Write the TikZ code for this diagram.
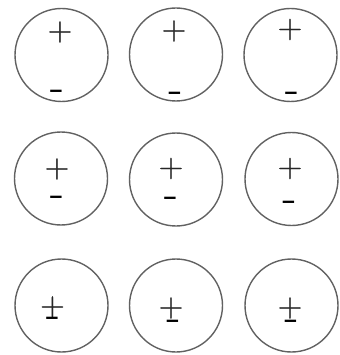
\documentclass[tikz,border=0pt]{standalone}
\usepackage{fontspec}
\newfontfamily\dashfont{Liberation Sans}
\newfontfamily\plusfont[FakeBold=0.8]{Latin Modern Roman}
\begin{document}
\begin{tikzpicture}[x=1pt,y=-1pt,
  ring/.style={circle, draw=black!62, line width=1.4pt, minimum size=93pt, inner sep=0pt},
  chplus/.style={inner sep=0pt, font=\plusfont\fontsize{34}{34}\selectfont, text=black!85},
  chminus/.style={inner sep=0pt, anchor=base, yshift=-6pt, font=\dashfont\bfseries\fontsize{23}{23}\selectfont}]
\useasboundingbox (0,0) rectangle (339,355);
% row 1
\node[ring] (c1) at (61.5,55) {};
\node[ring] (c2) at (176,54.5) {};
\node[ring] (c3) at (290.5,55) {};
\node[chplus] (p1) at (60,32) {+};
\node[chplus] (p2) at (174,31) {+};
\node[chplus] (p3) at (290,29.5) {+};
\node[chminus] (m1) at (56,92) {–};
\node[chminus] (m2) at (174.5,94) {–};
\node[chminus] (m3) at (291,94) {–};
% row 2
\node[ring] (c4) at (61,178.5) {};
\node[ring] (c5) at (176,179.5) {};
\node[ring] (c6) at (291.5,179) {};
\node[chplus] (p4) at (57,169) {+};
\node[chplus] (p5) at (171,168.5) {+};
\node[chplus] (p6) at (290,168.5) {+};
\node[chminus] (m4) at (56,197) {–};
\node[chminus] (m5) at (170,198) {–};
\node[chminus] (m6) at (288.5,202) {–};
% row 3
\node[ring] (c7) at (61.5,305.5) {};
\node[ring] (c8) at (176,305.5) {};
\node[ring] (c9) at (291.5,305.5) {};
\node[chplus] (p7) at (52.5,307) {+};
\node[chplus] (p8) at (171,308) {+};
\node[chplus] (p9) at (290,308) {+};
\node[chminus] (m7) at (52,318.5) {–};
\node[chminus] (m8) at (172.5,321) {–};
\node[chminus] (m9) at (290.5,321) {–};
\end{tikzpicture}
\end{document}
